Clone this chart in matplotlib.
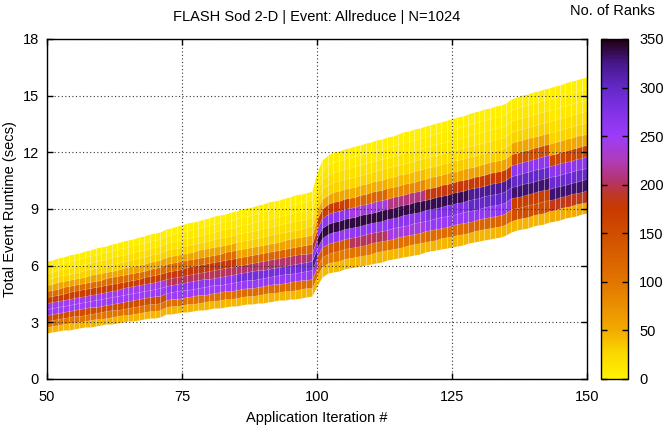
import numpy as np
import matplotlib
matplotlib.use("Agg")
import matplotlib.pyplot as plt
from matplotlib.colors import LinearSegmentedColormap

plt.rcParams["font.family"] = ["Liberation Sans", "DejaVu Sans"]

# Application iterations (one column per iteration)
iterations = list(range(50, 151))

# Fastest and slowest rank runtime at each iteration (secs)
runtime_low = [
    2.45, 2.49, 2.53, 2.57, 2.61, 2.65, 2.69, 2.73, 2.77, 2.81, 2.85,
    2.89, 2.93, 2.97, 3.01, 3.05, 3.09, 3.13, 3.17, 3.21, 3.25, 3.29,
    3.42, 3.46, 3.49, 3.53, 3.56, 3.60, 3.63, 3.67, 3.70, 3.74, 3.77,
    3.81, 3.84, 3.88, 3.91, 3.95, 3.98, 4.02, 4.05, 4.09, 4.12, 4.16,
    4.19, 4.23, 4.26, 4.30, 4.33, 4.37,
    4.95, 5.42, 5.60,
    5.68, 5.74, 5.80, 5.86, 5.92, 5.98, 6.04, 6.10, 6.16, 6.22, 6.28,
    6.34, 6.40, 6.46, 6.52, 6.58, 6.64, 6.70, 6.76, 6.82, 6.88, 6.94,
    7.00, 7.06, 7.12, 7.18, 7.24, 7.30, 7.36, 7.42, 7.48, 7.54, 7.60,
    7.80, 7.87, 7.94, 8.01, 8.08, 8.15, 8.22, 8.29, 8.36, 8.43, 8.50,
    8.57, 8.64, 8.71, 8.78,
]
runtime_high = [
    6.25, 6.32, 6.40, 6.47, 6.55, 6.62, 6.69, 6.77, 6.84, 6.92, 6.99,
    7.06, 7.14, 7.21, 7.29, 7.36, 7.43, 7.51, 7.58, 7.66, 7.73, 7.80,
    7.95, 8.02, 8.10, 8.17, 8.25, 8.32, 8.39, 8.47, 8.54, 8.62, 8.69,
    8.76, 8.84, 8.91, 8.99, 9.06, 9.13, 9.21, 9.28, 9.36, 9.43, 9.50,
    9.58, 9.65, 9.73, 9.80, 9.87, 9.95,
    10.95, 11.60, 11.85,
    12.00, 12.08, 12.16, 12.24, 12.32, 12.41, 12.49, 12.57, 12.65, 12.73,
    12.81, 12.89, 12.97, 13.05, 13.13, 13.22, 13.30, 13.38, 13.46, 13.54,
    13.62, 13.70, 13.78, 13.86, 13.94, 14.03, 14.11, 14.19, 14.27, 14.35,
    14.43, 14.51, 14.59,
    14.85, 14.93, 15.02, 15.10, 15.18, 15.26, 15.35, 15.43, 15.51, 15.59,
    15.68, 15.76, 15.84, 15.92, 16.00,
]

# Number of ranks in each runtime bin (fast -> slow), valid from the
# listed iteration until the next one
profile_start = [50, 72, 85, 99, 100, 106, 113, 120, 128, 136, 143]
rank_profiles = [
    [45, 100, 150, 250, 245, 170, 110, 55, 28, 18, 10, 5],
    [45, 105, 250, 262, 200, 180, 110, 55, 28, 16, 9, 4],
    [45, 110, 255, 285, 205, 120, 58, 30, 20, 12, 7, 4],
    [45, 110, 240, 320, 260, 190, 70, 35, 20, 12, 7, 4],
    [42, 95, 135, 258, 340, 262, 170, 55, 28, 18, 10, 5],
    [45, 100, 200, 260, 340, 240, 120, 48, 26, 16, 9, 4],
    [45, 105, 240, 265, 338, 210, 80, 40, 24, 15, 8, 4],
    [45, 110, 255, 275, 335, 180, 60, 32, 20, 12, 7, 4],
    [45, 120, 260, 300, 320, 175, 58, 30, 20, 12, 7, 4],
    [45, 150, 170, 330, 300, 265, 150, 55, 28, 18, 10, 5],
    [50, 185, 330, 295, 265, 160, 55, 28, 18, 10, 6, 3],
]

# Palette: count -> colour
palette_counts = [0, 25, 50, 100, 150, 175, 190, 205, 225, 250, 275, 300, 325, 350]
palette_colors = ["#fff200", "#fbd800", "#f2ab00", "#e27400", "#d04e00",
                  "#c83a00", "#be3828", "#b43470", "#b03cb8", "#9c3cf8",
                  "#8232e8", "#6428c8", "#48188c", "#200010"]
cmap = LinearSegmentedColormap.from_list(
    "ranks", list(zip(np.array(palette_counts) / 350.0, palette_colors)))

it = np.array(iterations, dtype=float)
lo = np.array(runtime_low)
hi = np.array(runtime_high)
nbins = len(rank_profiles[0])
frac = np.arange(nbins + 1) / nbins
X = np.tile(it, (nbins + 1, 1))
Y = lo[None, :] + (hi - lo)[None, :] * frac[:, None]

C = np.zeros((nbins, len(it) - 1))
for j, start in enumerate(it[:-1]):
    k = np.searchsorted(profile_start, start, side="right") - 1
    C[:, j] = rank_profiles[k]

fig = plt.figure(figsize=(6.65, 4.34), dpi=100)
ax = fig.add_axes([47 / 665, 55 / 434, 540 / 665, 340 / 434])
mesh = ax.pcolormesh(X, Y, C, cmap=cmap, vmin=0, vmax=350, shading="flat",
                     edgecolors=(1, 1, 1, 0.12), linewidth=0.4,
                     antialiased=True)
# faint seams between iteration columns
ax.vlines(it[1:-1], lo[1:-1], hi[1:-1], colors=(1, 1, 1, 0.22),
          linewidth=0.6, zorder=1.2)

ax.set_xlim(50, 150)
ax.set_ylim(0, 18)
ax.set_xticks([50, 75, 100, 125, 150])
ax.set_yticks([0, 3, 6, 9, 12, 15, 18])
ax.grid(True, color="#333333", linestyle=(0, (1, 2.2)), linewidth=0.8)
ax.tick_params(direction="in", length=4, width=1, top=True, right=True,
               labelsize=10.5, colors="black")
ax.tick_params(axis="x", pad=8)
ax.tick_params(axis="y", pad=6)
for s in ax.spines.values():
    s.set_linewidth(1.0)

ax.set_xlabel("Application Iteration #", fontsize=10.5, labelpad=5)
ax.set_ylabel("Total Event Runtime (secs)", fontsize=10.5)
ax.yaxis.set_label_coords(-0.056, 0.5)
ax.set_title("FLASH Sod 2-D | Event: Allreduce | N=1024", fontsize=10.5,
             pad=13)

cax = fig.add_axes([601 / 665, 55 / 434, 27 / 665, 340 / 434])
cb = fig.colorbar(mesh, cax=cax, ticks=list(range(0, 351, 50)))
cb.outline.set_linewidth(1.0)
cax.tick_params(direction="in", length=4, width=1, left=True, right=True,
                labelsize=10.5, pad=8)
fig.text(612 / 665, 1 - 11 / 434, "No. of Ranks", fontsize=10.5,
         ha="center", va="center")

fig.savefig("out.png", dpi=100)
